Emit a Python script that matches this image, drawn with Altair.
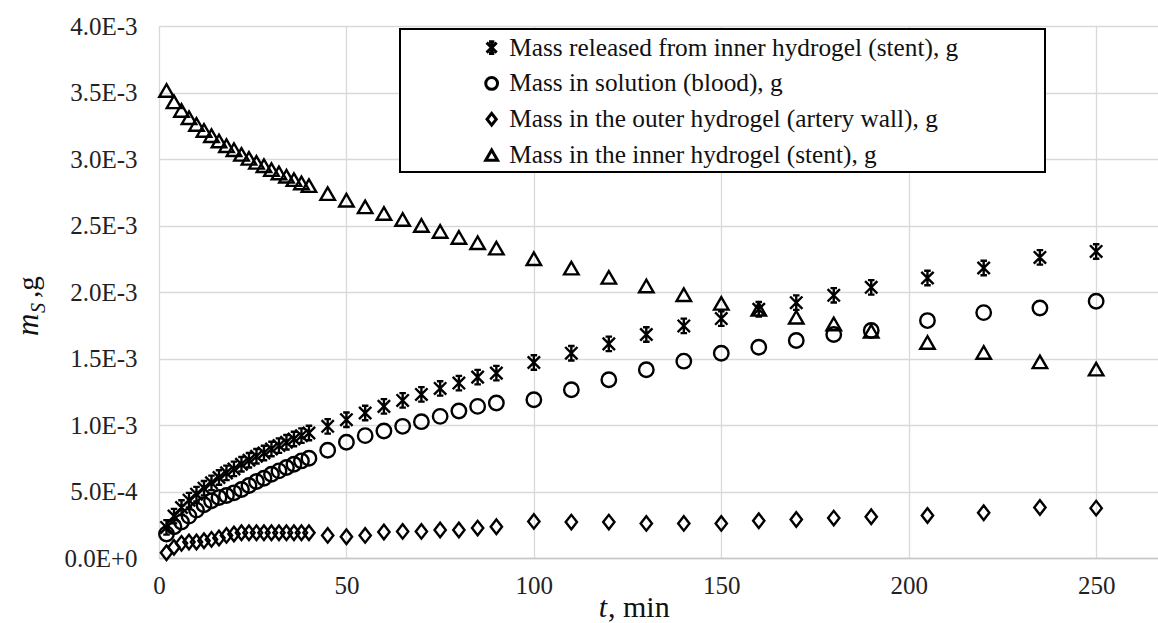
import altair as alt
import pandas as pd

# time points (min)
t = [2, 4, 6, 8, 10, 12, 14, 16, 18, 20, 22, 24, 26, 28, 30, 32, 34, 36, 38, 40,
     45, 50, 55, 60, 65, 70, 75, 80, 85, 90,
     100, 110, 120, 130, 140, 150, 160, 170, 180, 190,
     205, 220, 235, 250]

# Mass released from inner hydrogel (stent), g  (x1e-3)
released = [0.23, 0.315, 0.38, 0.435, 0.48, 0.525, 0.565, 0.605, 0.64, 0.67,
            0.705, 0.735, 0.765, 0.79, 0.82, 0.845, 0.87, 0.895, 0.92, 0.94,
            0.99, 1.04, 1.09, 1.14, 1.185, 1.23, 1.275, 1.315, 1.36, 1.39,
            1.47, 1.54, 1.61, 1.68, 1.745, 1.80, 1.87, 1.92, 1.975, 2.035,
            2.105, 2.18, 2.26, 2.305]

# Mass in solution (blood), g
solution = [0.18, 0.235, 0.27, 0.315, 0.36, 0.40, 0.43, 0.455, 0.47, 0.49,
            0.515, 0.545, 0.575, 0.60, 0.63, 0.655, 0.68, 0.705, 0.73, 0.75,
            0.81, 0.87, 0.92, 0.955, 0.99, 1.025, 1.065, 1.105, 1.14, 1.165,
            1.19, 1.265, 1.34, 1.415, 1.48, 1.54, 1.585, 1.635, 1.68, 1.71,
            1.785, 1.845, 1.88, 1.93]

# Mass in the outer hydrogel (artery wall), g
outer = [0.04, 0.08, 0.11, 0.12, 0.12, 0.13, 0.14, 0.15, 0.17, 0.18,
         0.19, 0.19, 0.19, 0.19, 0.19, 0.19, 0.19, 0.19, 0.19, 0.19,
         0.17, 0.16, 0.17, 0.195, 0.20, 0.20, 0.21, 0.21, 0.225, 0.235,
         0.275, 0.27, 0.27, 0.26, 0.26, 0.26, 0.28, 0.29, 0.30, 0.31,
         0.32, 0.34, 0.38, 0.375]

# Mass in the inner hydrogel (stent), g
inner = [3.515, 3.43, 3.365, 3.31, 3.26, 3.215, 3.175, 3.135, 3.10, 3.07,
         3.035, 3.005, 2.975, 2.95, 2.92, 2.895, 2.87, 2.845, 2.82, 2.80,
         2.74, 2.69, 2.64, 2.59, 2.545, 2.50, 2.455, 2.41, 2.37, 2.33,
         2.25, 2.18, 2.11, 2.045, 1.98, 1.915, 1.87, 1.81, 1.76, 1.705,
         1.62, 1.545, 1.475, 1.42]

series_names = [
    "Mass released from inner hydrogel (stent), g",
    "Mass in solution (blood), g",
    "Mass in the outer hydrogel (artery wall), g",
    "Mass in the inner hydrogel (stent), g",
]
y_ticks = [0, 0.0005, 0.001, 0.0015, 0.002, 0.0025, 0.003, 0.0035, 0.004]
x_ticks = [0, 50, 100, 150, 200, 250]

rows = []
for name, vals in zip(series_names, [released, solution, outer, inner]):
    for tt, v in zip(t, vals):
        rows.append({"t": tt, "m": v * 1e-3, "series": name})
df = pd.DataFrame(rows)

star = "M0,-1L0,1M-0.85,-0.85L0.85,0.85M-0.85,0.85L0.85,-0.85M-0.45,-1L0.45,-1M-0.45,1L0.45,1"
diamond = "M-0.78,0L0,-1L0.78,0L0,1Z"
shapes = [star, "circle", diamond, "triangle-up"]

FONT = "Liberation Serif"
W, H = 999, 532

points = alt.Chart(df).mark_point(
    filled=False, stroke="black", strokeWidth=2.4, size=210, opacity=1
).encode(
    x=alt.X("t:Q", scale=alt.Scale(domain=[0, 266.5], nice=False, zero=False),
            axis=alt.Axis(values=x_ticks, title=None, grid=True, gridColor="#d9d9d9",
                          gridWidth=1.3, domainColor="#c8c8c8", domainWidth=1.5,
                          ticks=False, labelFontSize=25,
                          labelColor="#222", labelPadding=15, labelFlush=False)),
    y=alt.Y("m:Q", scale=alt.Scale(domain=[0, 0.004], nice=False),
            axis=alt.Axis(values=y_ticks, title=None, grid=True, gridColor="#d9d9d9",
                          gridWidth=1.3, domain=False, ticks=False,
                          labelFontSize=25, labelColor="#222",
                          labelPadding=22,
                          labelExpr="upper(format(datum.value, '.1e'))")),
    shape=alt.Shape("series:N",
                    scale=alt.Scale(domain=series_names, range=shapes),
                    legend=alt.Legend(
                        title=None, orient="none", legendX=320, legendY=9,
                        labelFontSize=25.3, labelColor="#111",
                        symbolStrokeColor="black", symbolFillColor="transparent",
                        symbolStrokeWidth=3, symbolSize=140, labelOffset=5,
                        rowPadding=9.8, padding=0, labelLimit=700)),
)

box = alt.Chart(pd.DataFrame({"a": [0]})).mark_rect(
    fill="white", stroke="black", strokeWidth=2
).encode(x=alt.value(241), x2=alt.value(886), y=alt.value(3), y2=alt.value(146))

# axis titles with mixed styles
ttl = pd.DataFrame({"a": [0]})
xt1 = alt.Chart(ttl).mark_text(text="t", fontSize=30, fontStyle="italic",
                               align="right", baseline="alphabetic", color="#111"
                               ).encode(x=alt.value(448), y=alt.value(591))
xt2 = alt.Chart(ttl).mark_text(text=", min", fontSize=30,
                               align="left", baseline="alphabetic", color="#111"
                               ).encode(x=alt.value(449), y=alt.value(591))
yt1 = alt.Chart(ttl).mark_text(text="m", fontSize=31, fontStyle="italic",
                               angle=270, align="left", baseline="alphabetic", color="#111"
                               ).encode(x=alt.value(-121), y=alt.value(310))
yt2 = alt.Chart(ttl).mark_text(text="S", fontSize=20, fontStyle="italic",
                               angle=270, align="left", baseline="alphabetic", color="#111"
                               ).encode(x=alt.value(-114), y=alt.value(287))
yt3 = alt.Chart(ttl).mark_text(text=" ,g", fontSize=29,
                               angle=270, align="left", baseline="alphabetic", color="#111"
                               ).encode(x=alt.value(-121), y=alt.value(272))

chart = alt.layer(box, points, xt1, xt2, yt1, yt2, yt3).properties(
    width=W, height=H,
    padding={"left": 159, "top": 26, "right": 0, "bottom": 65},
    autosize=alt.AutoSizeParams(type="none"),
    background="white",
).configure_view(stroke=None).configure_axis(
    labelFont=FONT
).configure_legend(
    labelFont=FONT
).configure_text(font=FONT).configure(font=FONT)

chart.save("out.html", embed_options={"renderer": "svg", "actions": False})
